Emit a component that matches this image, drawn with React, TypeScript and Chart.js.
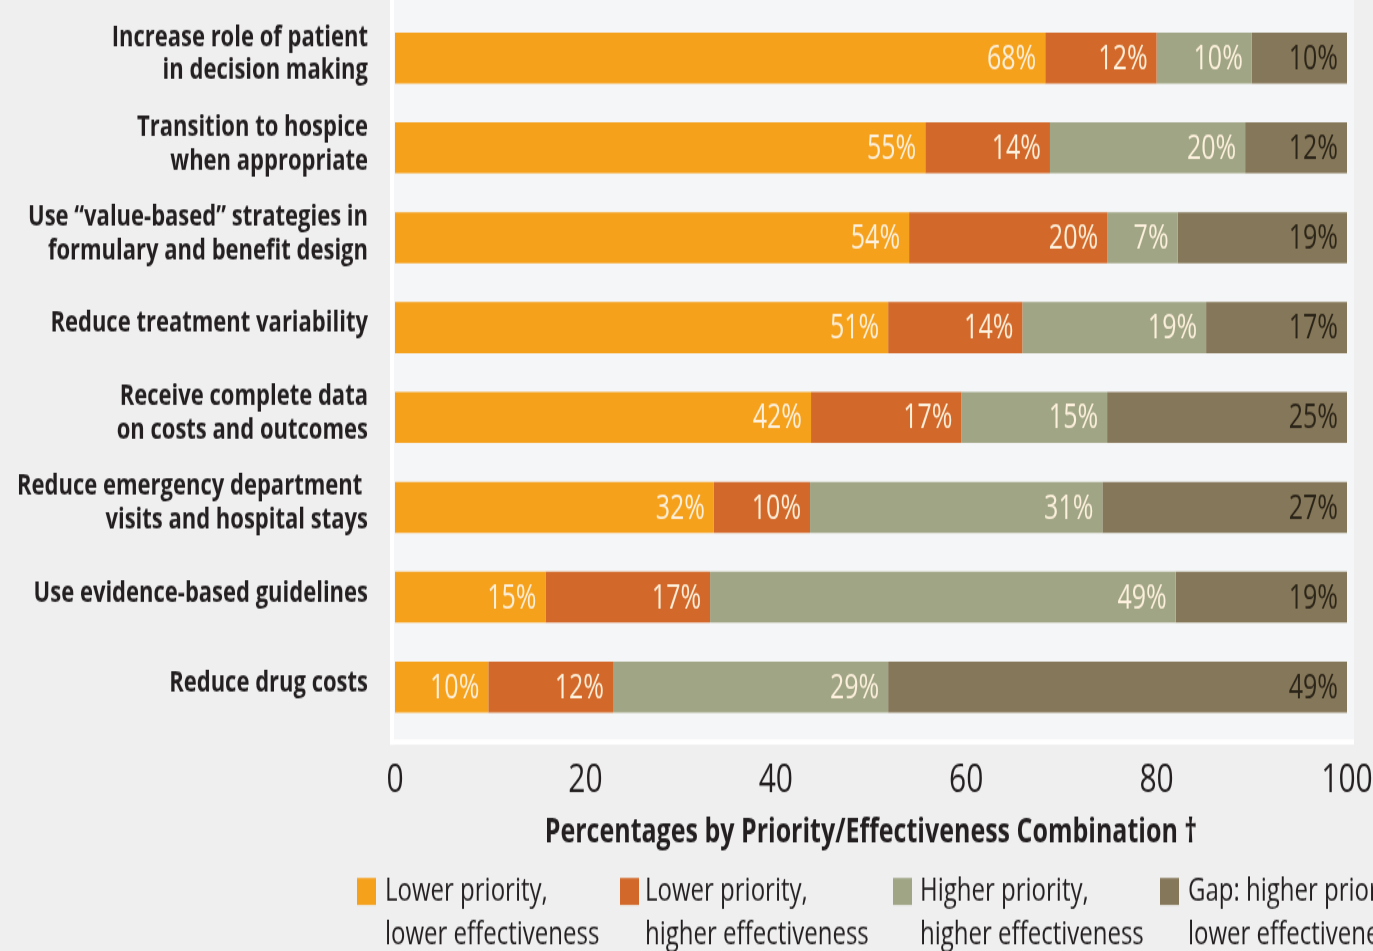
import React, { useEffect, useRef } from "react";
import { Chart, registerables } from "chart.js";

Chart.register(...registerables);

// ---------- data ----------
const categories: (string | string[])[] = [
  ["Increase role of patient", "in decision making"],
  ["Transition to hospice", "when appropriate"],
  ["Use \u201cvalue-based\u201d strategies in", "formulary and benefit design"],
  "Reduce treatment variability",
  ["Receive complete data", "on costs and outcomes"],
  ["Reduce emergency department ", "visits and hospital stays"],
  "Use evidence-based guidelines",
  "Reduce drug costs",
];

const seriesNames = [
  "Lower priority, lower effectiveness",
  "Lower priority, higher effectiveness",
  "Higher priority, higher effectiveness",
  "Gap: higher priority, lower effectiveness",
];

const legendLines = [
  ["Lower priority,", "lower effectiveness"],
  ["Lower priority,", "higher effectiveness"],
  ["Higher priority,", "higher effectiveness"],
  ["Gap: higher priority,", "lower effectiveness"],
];

// segment lengths as drawn
const lowerLower = [68.3, 55.7, 54.0, 51.8, 43.7, 33.5, 15.8, 9.8];
const lowerHigher = [11.7, 13.1, 20.8, 14.1, 15.8, 10.1, 17.3, 13.1];
const higherHigher = [10.0, 20.5, 7.4, 19.3, 15.3, 30.7, 48.9, 28.9];
const gapHigherLower = [10.0, 10.7, 17.8, 14.8, 25.2, 25.7, 18.0, 48.2];

// percentages printed on the bars
const lowerLowerLabels = [68, 55, 54, 51, 42, 32, 15, 10];
const lowerHigherLabels = [12, 14, 20, 14, 17, 10, 17, 12];
const higherHigherLabels = [10, 20, 7, 19, 15, 31, 49, 29];
const gapLabels = [10, 12, 19, 17, 25, 27, 19, 49];

const xTicks = [0, 20, 40, 60, 80, 100];
const axisTitle = "Percentages by Priority/Effectiveness Combination \u2020";

const colors = ["#f5a11c", "#d2692a", "#9fa585", "#857759"];
const labelColors = ["#fdf0dc", "#fdf0dc", "#fdf0dc", "#2b2418"];

// ---------- layout ----------
const W = 1373;
const H_CSS = 951;
const H = 700; // internal canvas height, stretched to H_CSS by CSS
const K = H_CSS / H;
const FONT = "'Open Sans', 'Liberation Sans', 'DejaVu Sans', sans-serif";
const TEXT = "#231f20";

export default function App() {
  const ref = useRef<HTMLCanvasElement | null>(null);

  useEffect(() => {
    const canvas = ref.current;
    if (!canvas) return;

    const allLabels = [lowerLowerLabels, lowerHigherLabels, higherHigherLabels, gapLabels];

    const backgroundPlugin = {
      id: "bgPlot",
      beforeDraw(chart: any) {
        const ctx = chart.ctx;
        ctx.save();
        ctx.fillStyle = "#efefef";
        ctx.fillRect(0, 0, chart.width, chart.height);
        const left = 392;
        const right = 1354;
        const bottom = 742 / K;
        ctx.fillStyle = "#f5f6f7";
        ctx.fillRect(left, 0, right - left, bottom);
        ctx.fillStyle = "#ffffff";
        ctx.fillRect(left - 2, 0, 4, bottom + 2);
        ctx.fillRect(left - 2, bottom - 2, right - left + 2, 4);
        ctx.restore();
      },
    };

    const barLabelPlugin = {
      id: "barLabels",
      afterDatasetsDraw(chart: any) {
        const ctx = chart.ctx;
        ctx.save();
        ctx.font = `400 25px ${FONT}`;
        ctx.textAlign = "right";
        ctx.textBaseline = "middle";
        chart.data.datasets.forEach((_: any, i: number) => {
          const meta = chart.getDatasetMeta(i);
          ctx.fillStyle = labelColors[i];
          meta.data.forEach((bar: any, j: number) => {
            const p = bar.getProps(["x", "y"], true);
            ctx.fillText(`${allLabels[i][j]}%`, p.x - 9, p.y + 1);
          });
        });
        ctx.restore();
      },
    };

    const legendPlugin = {
      id: "customLegend",
      afterDraw(chart: any) {
        const ctx = chart.ctx;
        const boxX = [357, 620, 893, 1160];
        const textX = [385, 645, 920, 1188];
        const boxTop = 878 / K;
        const boxH = 27 / K;
        const line1 = 892 / K;
        const line2 = 935 / K;
        ctx.save();
        ctx.font = `400 24px ${FONT}`;
        ctx.textAlign = "left";
        ctx.textBaseline = "middle";
        legendLines.forEach((lines, i) => {
          ctx.fillStyle = colors[i];
          ctx.fillRect(boxX[i], boxTop, 19, boxH);
          ctx.fillStyle = TEXT;
          ctx.fillText(lines[0], textX[i], line1);
          ctx.fillText(lines[1], textX[i], line2);
        });
        ctx.restore();
      },
    };

    const chart = new Chart(canvas, {
      type: "bar",
      data: {
        labels: categories,
        datasets: [lowerLower, lowerHigher, higherHigher, gapHigherLower].map((d, i) => ({
          label: seriesNames[i],
          data: d,
          backgroundColor: colors[i],
          borderWidth: 0,
          categoryPercentage: 1,
          barPercentage: 0.567,
        })),
      },
      options: {
        indexAxis: "y",
        responsive: false,
        animation: false,
        events: [],
        layout: {
          padding: { left: 0, right: 26, top: 9.6, bottom: 71.2 },
        },
        plugins: {
          legend: { display: false },
          tooltip: { enabled: false },
          title: { display: false },
        },
        scales: {
          x: {
            stacked: true,
            min: 0,
            max: 100,
            grid: { display: false, drawTicks: false },
            border: { display: false },
            afterBuildTicks(scale: any) {
              scale.ticks = xTicks.map((v) => ({ value: v }));
            },
            afterFit(scale: any) {
              scale.height = 90;
              scale.paddingLeft = 0;
              scale.paddingRight = 0;
            },
            ticks: {
              padding: 18,
              color: TEXT,
              font: { family: FONT, size: 30, weight: "400", lineHeight: 1.2 },
              maxRotation: 0,
              autoSkip: false,
            },
            title: {
              display: true,
              text: axisTitle,
              color: TEXT,
              font: { family: FONT, size: 25, weight: "700", lineHeight: 1.2 },
              padding: { top: 0, bottom: 1 },
            },
          },
          y: {
            stacked: true,
            grid: { display: false, drawTicks: false },
            border: { display: false },
            afterFit(scale: any) {
              scale.width = 395;
              scale.paddingTop = 0;
              scale.paddingBottom = 0;
            },
            ticks: {
              padding: 27,
              labelOffset: -3,
              color: TEXT,
              font: { family: FONT, size: 22, weight: "700", lineHeight: 1.13 },
              autoSkip: false,
            },
          },
        },
      },
      plugins: [backgroundPlugin, barLabelPlugin, legendPlugin],
    } as any);

    return () => chart.destroy();
  }, []);

  return (
    <div style={{ position: "absolute", left: 0, top: 0, width: W, height: H_CSS, overflow: "hidden", background: "#efefef" }}>
      <canvas
        ref={ref}
        width={W}
        height={H}
        style={{ width: `${W}px`, height: `${H_CSS}px`, display: "block" }}
      />
    </div>
  );
}
